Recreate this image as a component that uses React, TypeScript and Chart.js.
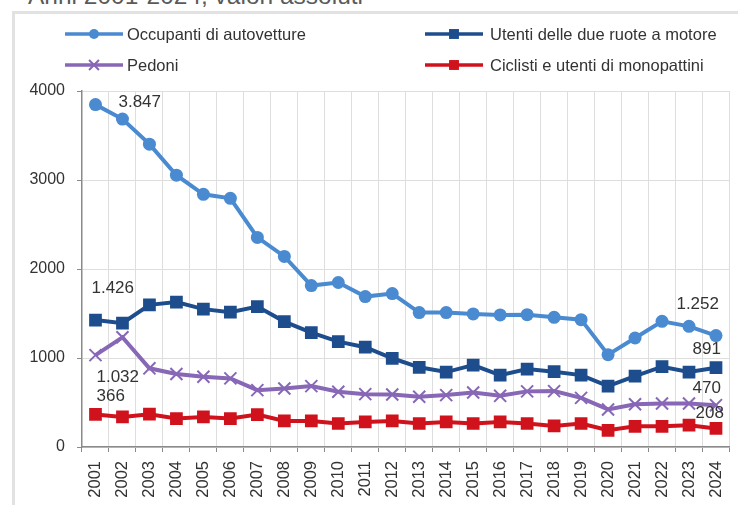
import React, { useEffect, useRef } from "react";
import { Chart, registerables } from "chart.js";

Chart.register(...registerables);

const years = ["2001","2002","2003","2004","2005","2006","2007","2008","2009","2010","2011","2012","2013","2014","2015","2016","2017","2018","2019","2020","2021","2022","2023","2024"];

const occupanti = [3847,3685,3403,3054,2839,2794,2355,2141,1814,1848,1690,1724,1510,1510,1495,1484,1487,1457,1431,1037,1225,1412,1356,1252];
const dueRuote = [1426,1391,1597,1628,1549,1515,1578,1409,1285,1184,1121,997,895,842,921,808,876,846,808,684,797,902,842,891];
const pedoni = [1032,1233,884,820,789,771,639,658,684,620,594,590,564,583,613,575,625,628,552,422,481,489,489,470];
const ciclisti = [366,338,369,320,338,320,365,293,293,264,282,293,264,282,264,282,264,237,264,188,233,233,245,208];

const seriesNames = ["Occupanti di autovetture","Utenti delle due ruote a motore","Pedoni","Ciclisti e utenti di monopattini"];
const yTicks = [0, 1000, 2000, 3000, 4000];

const COLORS = ["#4a8ad0", "#1d4d8c", "#8767b6", "#d0121c"];
const STYLES = ["circle", "rect", "crossRot", "rect"];
const RADII = [6.5, 9, 8.5, 9];

// labels: dataset, index, text, dx, dy, align
const valueLabels = [
  { ds: 0, i: 0, text: "3.847", dx: 23, dy: -2, align: "left" },
  { ds: 1, i: 0, text: "1.426", dx: -4, dy: -32, align: "left" },
  { ds: 2, i: 0, text: "1.032", dx: 1, dy: 22, align: "left" },
  { ds: 3, i: 0, text: "366", dx: 1, dy: -18, align: "left" },
  { ds: 0, i: 23, text: "1.252", dx: 3, dy: -31, align: "right" },
  { ds: 1, i: 23, text: "891", dx: 5, dy: -18, align: "right" },
  { ds: 2, i: 23, text: "470", dx: 5, dy: -17, align: "right" },
  { ds: 3, i: 23, text: "208", dx: 8, dy: -15, align: "right" },
];

const FONT = "'Liberation Sans', Arial, sans-serif";

function drawMarker(ctx: CanvasRenderingContext2D, style: string, x: number, y: number, r: number, color: string) {
  ctx.save();
  ctx.fillStyle = color;
  ctx.strokeStyle = color;
  if (style === "circle") {
    ctx.beginPath();
    ctx.arc(x, y, r, 0, Math.PI * 2);
    ctx.fill();
  } else if (style === "rect") {
    const s = r * Math.SQRT1_2;
    ctx.fillRect(x - s, y - s, 2 * s, 2 * s);
  } else {
    const o = r * Math.SQRT1_2;
    ctx.lineWidth = 2;
    ctx.beginPath();
    ctx.moveTo(x - o, y - o);
    ctx.lineTo(x + o, y + o);
    ctx.moveTo(x - o, y + o);
    ctx.lineTo(x + o, y - o);
    ctx.stroke();
  }
  ctx.restore();
}

const legendPlugin = {
  id: "customLegend",
  afterDraw(chart: any) {
    const ctx = chart.ctx as CanvasRenderingContext2D;
    const pos = [
      { x1: 65, x2: 123, tx: 127, y: 34 },
      { x1: 425, x2: 483, tx: 490, y: 34 },
      { x1: 65, x2: 123, tx: 127, y: 65 },
      { x1: 425, x2: 483, tx: 490, y: 65 },
    ];
    const legendR = [5, 7, 7, 7];
    chart.data.datasets.forEach((ds: any, k: number) => {
      const p = pos[k];
      ctx.save();
      ctx.strokeStyle = COLORS[k];
      ctx.lineWidth = 3.5;
      ctx.beginPath();
      ctx.moveTo(p.x1, p.y);
      ctx.lineTo(p.x2, p.y);
      ctx.stroke();
      drawMarker(ctx, STYLES[k], (p.x1 + p.x2) / 2, p.y, legendR[k], COLORS[k]);
      ctx.fillStyle = "#333333";
      ctx.font = "16.5px " + FONT;
      ctx.textAlign = "left";
      ctx.textBaseline = "middle";
      ctx.fillText(ds.label, p.tx, p.y + 1);
      ctx.restore();
    });
  },
};

const valueLabelPlugin = {
  id: "valueLabels",
  afterDatasetsDraw(chart: any) {
    const ctx = chart.ctx as CanvasRenderingContext2D;
    ctx.save();
    ctx.fillStyle = "#333333";
    ctx.font = "17px " + FONT;
    ctx.textBaseline = "middle";
    valueLabels.forEach((l) => {
      const el = chart.getDatasetMeta(l.ds).data[l.i];
      if (!el) return;
      ctx.textAlign = l.align as CanvasTextAlign;
      ctx.fillText(l.text, el.x + l.dx, el.y + l.dy);
    });
    ctx.restore();
  },
};

export default function App() {
  const ref = useRef<HTMLCanvasElement | null>(null);
  useEffect(() => {
    if (!ref.current) return;
    const seriesData = [occupanti, dueRuote, pedoni, ciclisti];
    const chart = new Chart(ref.current, {
      type: "line",
      data: {
        labels: years,
        datasets: seriesData.map((d, k) => ({
          label: seriesNames[k],
          data: d,
          borderColor: COLORS[k],
          backgroundColor: COLORS[k],
          borderWidth: 4,
          pointStyle: STYLES[k] as any,
          pointRadius: RADII[k],
          pointBorderWidth: k === 2 ? 2 : 0,
          pointBackgroundColor: COLORS[k],
          pointBorderColor: COLORS[k],
          tension: 0,
        })),
      },
      options: {
        animation: false,
        responsive: false,
        devicePixelRatio: 1,
        layout: { padding: { top: 91, left: 0, right: 5, bottom: 0 } },
        plugins: {
          legend: { display: false },
          tooltip: { enabled: false },
          title: { display: false },
        },
        scales: {
          x: {
            type: "category",
            offset: true,
            grid: { offset: true, color: "#dedede", tickColor: "#8a8a8a", tickLength: 5, lineWidth: 1 },
            border: { color: "#8a8a8a", width: 1.5 },
            ticks: {
              autoSkip: false,
              maxRotation: 90,
              minRotation: 90,
              padding: 9,
              color: "#333333",
              font: { family: FONT, size: 16.5 },
            },
            afterFit(scale: any) { scale.height = 58; },
          },
          y: {
            min: 0,
            max: 4000,
            afterBuildTicks(scale: any) { scale.ticks = yTicks.map((v) => ({ value: v })); },
            grid: { color: "#dedede", tickColor: "#8a8a8a", tickLength: 5, lineWidth: 1 },
            border: { color: "#8a8a8a", width: 1.5 },
            ticks: {
              padding: 12,
              color: "#333333",
              font: { family: FONT, size: 16 },
              callback: (v: any) => String(v),
            },
            afterFit(scale: any) { scale.width = 82; },
          },
        },
      },
      plugins: [legendPlugin, valueLabelPlugin],
    });
    return () => chart.destroy();
  }, []);

  return (
    <div style={{ position: "fixed", left: 0, top: 0, width: 738, height: 505, overflow: "hidden", background: "#ffffff" }}>
      <div style={{ position: "absolute", left: 28, top: -16, fontFamily: FONT, fontSize: 24.5, lineHeight: "24px", color: "#5a5a5a", whiteSpace: "nowrap" }}>
        Anni 2001-2024, valori assoluti
      </div>
      <div style={{ position: "absolute", left: 12, top: 11, width: 800, height: 600, borderLeft: "3px solid #e2e2e2", borderTop: "3px solid #e2e2e2" }} />
      <canvas ref={ref} width={745} height={505} style={{ position: "absolute", left: 0, top: 0, width: 745, height: 505 }} />
    </div>
  );
}
